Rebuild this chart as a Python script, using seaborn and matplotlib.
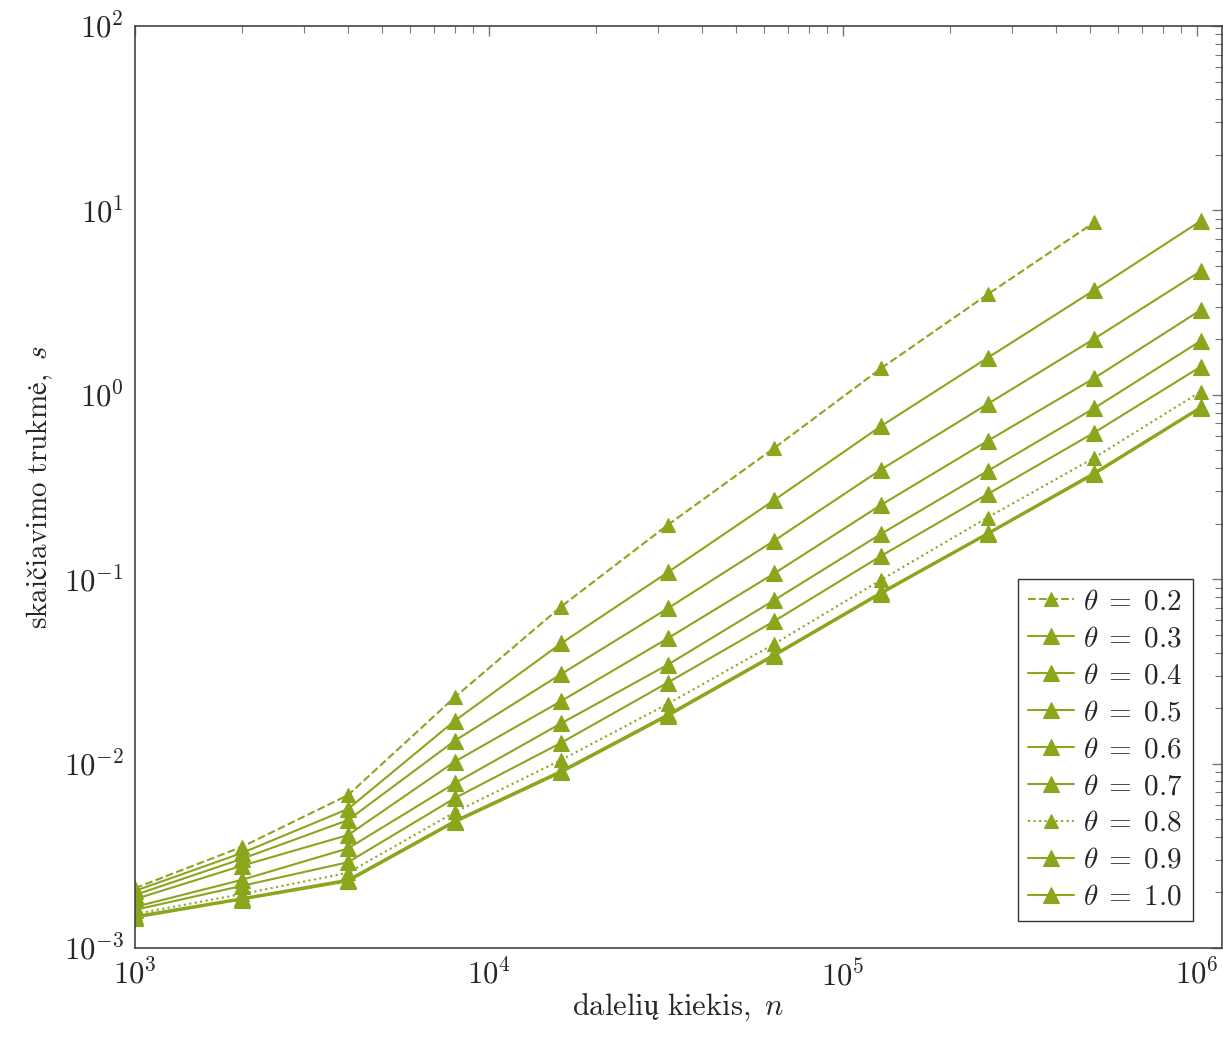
import numpy as np
import pandas as pd
import matplotlib
matplotlib.use("Agg")
import matplotlib.pyplot as plt
import seaborn as sns
from matplotlib.ticker import LogLocator, LogFormatterMathtext, NullFormatter

# ---- data ----
n_values = [1000, 2000, 4000, 8000, 16000, 32000, 64000, 128000, 256000, 512000, 1024000]
theta_labels = ["0.2", "0.3", "0.4", "0.5", "0.6", "0.7", "0.8", "0.9", "1.0"]

t02 = [0.00211, 0.00353, 0.00675, 0.0229, 0.0711, 0.197, 0.515, 1.39, 3.5, 8.6]
t03 = [0.00204, 0.00327, 0.00568, 0.01706, 0.0449, 0.109, 0.269, 0.676, 1.585, 3.69, 8.76]
t04 = [0.00194, 0.00304, 0.00494, 0.0133, 0.0306, 0.0695, 0.162, 0.393, 0.891, 2.01, 4.68]
t05 = [0.00184, 0.00279, 0.0041, 0.01024, 0.02185, 0.0478, 0.1076, 0.2526, 0.562, 1.23, 2.88]
t06 = [0.00167, 0.00234, 0.00347, 0.00782, 0.01655, 0.0344, 0.0771, 0.176, 0.386, 0.845, 1.96]
t07 = [0.00161, 0.00217, 0.00292, 0.00649, 0.01298, 0.0275, 0.0593, 0.1336, 0.289, 0.623, 1.42]
t08 = [0.00153, 0.00196, 0.00256, 0.00545, 0.01047, 0.0211, 0.0446, 0.0991, 0.216, 0.455, 1.04]
t09 = [0.00149, 0.00186, 0.00235, 0.00490, 0.00915, 0.0185, 0.0392, 0.0850, 0.178, 0.378, 0.86]
t10 = [0.00146, 0.00183, 0.00230, 0.00480, 0.00895, 0.0181, 0.0384, 0.0833, 0.175, 0.370, 0.845]

series = [t02, t03, t04, t05, t06, t07, t08, t09, t10]
styles = ["dashed", "solid", "solid", "solid", "solid", "solid", "dotted", "solid", "solid"]

# ---- style ----
sns.set_style("white")
plt.rcParams["font.family"] = ["cmr10", "DejaVu Serif"]
plt.rcParams["mathtext.fontset"] = "cm"
plt.rcParams["axes.formatter.use_mathtext"] = True
plt.rcParams["axes.unicode_minus"] = False

color = "#8aa61c"

rows = []
for lab, vals in zip(theta_labels, series):
    for xv, yv in zip(n_values, vals):
        rows.append({"n": xv, "t": yv, "theta": lab})
df = pd.DataFrame(rows)

fig = plt.figure(figsize=(12.23, 10.37), dpi=100)
ax = fig.add_axes([135 / 1223, 89 / 1037, (1222 - 135) / 1223, (948 - 26) / 1037])

for lab, ls in zip(theta_labels, styles):
    sub = df[df["theta"] == lab]
    ms = 10 if ls != "solid" else 11.5
    sns.lineplot(data=sub, x="n", y="t", ax=ax, color=color, linestyle=ls,
                 linewidth=1.5, marker="^", markersize=ms, markeredgecolor=color,
                 markerfacecolor=color, markeredgewidth=0.8,
                 label=r"$\theta\;=\;%s$" % lab, estimator=None, sort=False)

ax.set_xscale("log")
ax.set_yscale("log")
ax.set_xlim(1000, 10 ** 6.0706)
ax.set_ylim(1e-3, 1e2)

ax.xaxis.set_major_locator(LogLocator(base=10, numticks=10))
ax.yaxis.set_major_locator(LogLocator(base=10, numticks=10))
ax.xaxis.set_minor_locator(LogLocator(base=10, subs=np.arange(2, 10), numticks=100))
ax.yaxis.set_minor_locator(LogLocator(base=10, subs=np.arange(2, 10), numticks=100))
ax.xaxis.set_major_formatter(LogFormatterMathtext())
ax.yaxis.set_major_formatter(LogFormatterMathtext())
ax.xaxis.set_minor_formatter(NullFormatter())
ax.yaxis.set_minor_formatter(NullFormatter())

ax.tick_params(which="both", direction="in", top=True, right=True, color="#777777")
ax.tick_params(which="major", length=7, width=1.0, labelsize=22, pad=8)
ax.tick_params(which="minor", length=5, width=0.8)

for sp in ax.spines.values():
    sp.set_color("#444444")
    sp.set_linewidth(1.2)

ax.set_xlabel(r"$\mathrm{dalelių\ kiekis},\ n$", fontsize=22, labelpad=0)
ax.set_ylabel(r"$\mathrm{skaičiavimo\ trukmė},\ s$", fontsize=21, labelpad=6)

leg = ax.legend(loc="lower right", bbox_to_anchor=(0.9733, 0.0293), borderaxespad=0,
                fontsize=21, frameon=True, fancybox=False, framealpha=1,
                edgecolor="#333333", handlelength=1.6, handletextpad=0.3,
                labelspacing=0.36, borderpad=0.35, numpoints=1)
leg.get_frame().set_linewidth(1.0)

fig.savefig("out.png", dpi=100)
